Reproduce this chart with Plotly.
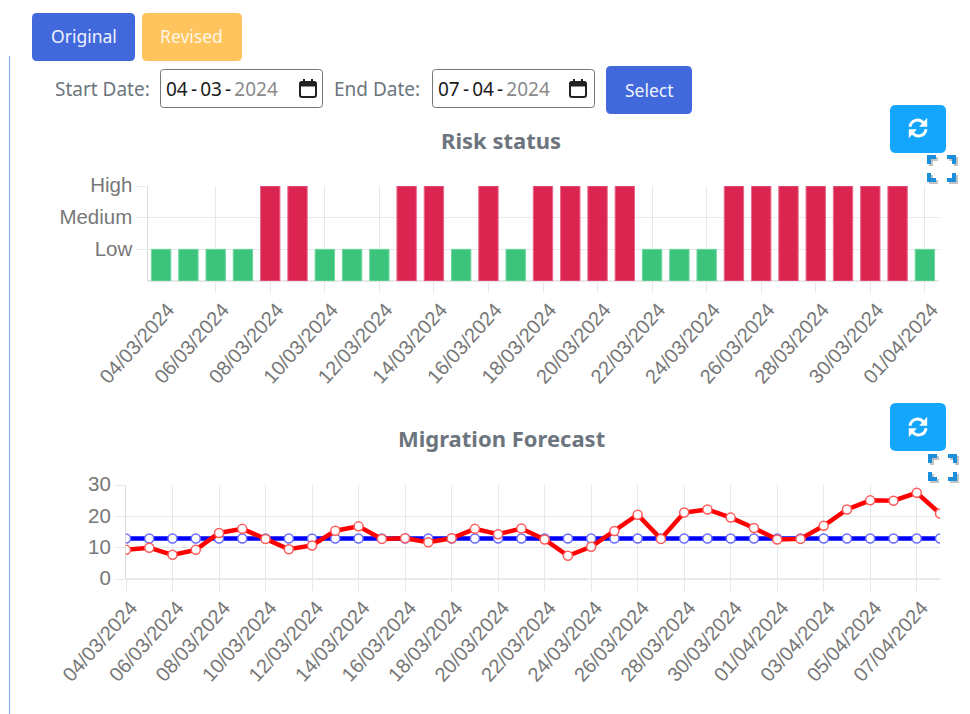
import plotly.graph_objects as go

W, H = 970, 714

risk_dates = ["2024-03-%02d" % d for d in range(4, 32)] + ["2024-04-01"]
risk_levels = [1,1,1,1,3,3,1,1,1,3,3,1,3,1,3,3,3,3,1,1,1,3,3,3,3,3,3,3,1]
risk_ticktext = ["Low", "Medium", "High"]
risk_tickvals = [1, 2, 3]
risk_colors = {1: "#3cc47c", 3: "#dc2450"}
risk_borders = {1: "#6fd6a0", 3: "#e8688a"}

fc_dates = ["2024-03-%02d" % d for d in range(4, 32)] + ["2024-04-%02d" % d for d in range(1, 9)]
fc_blue = [12.9] * 36
fc_red = [9.3,10,7.7,9.3,14.7,16,12.8,9.5,10.7,15.4,16.8,12.8,13,11.7,13,16,14.3,16.1,
          12.6,7.4,10.3,15.3,20.5,12.8,21.2,22.2,19.6,16.3,12.6,12.8,17,22.2,25.1,25,27.5,20.9]

GRID = "#e8e8e8"
TICK = "#777777"
UI = "Noto Sans"
LAB = "Liberation Sans"


def px(x, y):
    return f"{x/W:.5f},{1-y/H:.5f}"


def rrect(x0, y0, x1, y1, r):
    return (f"M{px(x0+r,y0)} L{px(x1-r,y0)} Q{px(x1,y0)} {px(x1,y0+r)} L{px(x1,y1-r)} "
            f"Q{px(x1,y1)} {px(x1-r,y1)} L{px(x0+r,y1)} Q{px(x0,y1)} {px(x0,y1-r)} "
            f"L{px(x0,y0+r)} Q{px(x0,y0)} {px(x0+r,y0)} Z")


shapes, annots = [], []


def box(x0, y0, x1, y1, r, fill, line=None, lw=0):
    shapes.append(dict(type="path", xref="paper", yref="paper", path=rrect(x0, y0, x1, y1, r),
                       fillcolor=fill, line=dict(color=line or fill, width=lw), layer="above"))


def text(x, y, s, size, color, anchor="center", bold=False, font=UI):
    annots.append(dict(xref="paper", yref="paper", x=x/W, y=1-y/H, text=f"<b>{s}</b>" if bold else s,
                       showarrow=False, xanchor=anchor, yanchor="middle", borderpad=0,
                       font=dict(family=font, size=size, color=color)))


def stroke(d, color, width, opacity=1):
    shapes.append(dict(type="path", xref="paper", yref="paper", path=d, opacity=opacity,
                       line=dict(color=color, width=width), layer="above"))


def calendar(cx, cy):
    box(cx-8, cy-7, cx+8, cy+8, 2, "rgba(0,0,0,0)", "#222", 2)
    box(cx-8, cy-7, cx+8, cy-3, 1, "#222", "#222", 1)
    stroke(f"M{px(cx-4,cy-10)} L{px(cx-4,cy-7)} M{px(cx+4,cy-10)} L{px(cx+4,cy-7)}", "#222", 2)


def refresh(cx, cy):
    k = 1.15
    for s in (1, -1):
        p = lambda a, b: px(cx + s*k*a, cy + s*k*b)
        stroke(f"M{p(-7,-1)} C{p(-6,-7)} {p(1,-9)} {p(5,-4)}", "white", 3)
        shapes.append(dict(type="path", xref="paper", yref="paper", layer="above",
                           path=f"M{p(8,-9)} L{p(8,-1)} L{p(1,-1)} Z", fillcolor="white",
                           line=dict(color="white", width=0)))


def expand(x0, y0, x1, y1):
    L = 7
    d = lambda dx, dy: " ".join([
        f"M{px(x0+dx,y0+L+dy)} L{px(x0+dx,y0+dy)} L{px(x0+L+dx,y0+dy)}",
        f"M{px(x1-L+dx,y0+dy)} L{px(x1+dx,y0+dy)} L{px(x1+dx,y0+L+dy)}",
        f"M{px(x0+dx,y1-L+dy)} L{px(x0+dx,y1+dy)} L{px(x0+L+dx,y1+dy)}",
        f"M{px(x1-L+dx,y1+dy)} L{px(x1+dx,y1+dy)} L{px(x1+dx,y1-L+dy)}"])
    stroke(d(2, 2), "#555555", 4, 0.35)
    stroke(d(0, 0), "#1b8fdc", 4)


def datestr(a, b, c):
    return f'{a}\u2009-\u2009{b}\u2009-\u2009<span style="color:#8a8a8a">{c}</span>'


# page furniture
stroke(f"M{px(9.5,56)} L{px(9.5,714)}", "#8fb0ee", 1.2)
box(32, 13, 135, 61, 5, "#4169dc")
text(84, 36, "Original", 17.5, "#eef2ff")
box(142, 13, 242, 61, 5, "#ffc45e")
text(191, 36, "Revised", 17.5, "#fff6e4")
text(54, 89, "Start Date:", 19, "#6c757d", "left")
box(160.5, 69.5, 322.5, 107.5, 3, "white", "#777777", 1)
text(165, 89, datestr("04", "03", "2024"), 19, "#1a1a1a", "left")
calendar(308, 89)
text(333, 89, "End Date:", 19, "#6c757d", "left")
box(432.5, 69.5, 594.5, 107.5, 3, "white", "#777777", 1)
text(437, 89, datestr("07", "04", "2024"), 19, "#1a1a1a", "left")
calendar(578, 89)
box(606, 66, 692, 114, 5, "#4169dc")
text(649, 90, "Select", 17.5, "#eef2ff")
box(890, 105, 946, 153, 6, "#14a5fc")
refresh(918, 128)
expand(929, 157, 954, 180)
box(890, 403, 946, 451, 6, "#14a5fc")
refresh(918, 427)
expand(930, 456, 955, 479)
text(501, 140, "Risk status", 22, "#6c757d", bold=True)
text(501, 438, "Migration Forecast", 22, "#6c757d", bold=True)

fig = go.Figure()
fig.add_trace(go.Bar(x=risk_dates, y=risk_levels, width=0.71*86400000, xaxis="x", yaxis="y",
                     marker=dict(color=[risk_colors[v] for v in risk_levels],
                                 line=dict(color=[risk_borders[v] for v in risk_levels], width=1)),
                     showlegend=False))
fig.add_trace(go.Scatter(x=fc_dates, y=fc_blue, mode="lines+markers", xaxis="x2", yaxis="y2", showlegend=False,
                         line=dict(color="#0000ff", width=4.5),
                         marker=dict(size=9, color="white", line=dict(color="#6a6aff", width=1.5))))
fig.add_trace(go.Scatter(x=fc_dates, y=fc_red, mode="lines+markers", xaxis="x2", yaxis="y2", showlegend=False,
                         line=dict(color="#ff0000", width=4.5),
                         marker=dict(size=9, color="white", line=dict(color="#ff5a5a", width=1.5))))

xfont = dict(family=LAB, size=20, color=TICK)
yfont = dict(family=LAB, size=20.5, color=TICK)
xcommon = dict(type="date", tickformat="%d/%m/%Y", tickfont=xfont, showline=False, tickangle=-48,
               zeroline=False, ticks="", showgrid=False, automargin=False, ticklabelstandoff=12)
ycommon = dict(showgrid=True, gridcolor=GRID, gridwidth=1.2, zeroline=True, zerolinecolor=GRID, zerolinewidth=2,
               ticks="outside", ticklen=10, tickcolor=GRID, tickwidth=1.2, tickfont=yfont, ticklabelshift=-1,
               showline=True, linecolor="#dcdcdc", linewidth=1.2, fixedrange=True, automargin=False)

fig.update_layout(
    width=W, height=H, margin=dict(l=0, r=0, t=0, b=0), autosize=False,
    paper_bgcolor="white", plot_bgcolor="white", showlegend=False,
    shapes=shapes, annotations=annots,
    xaxis=dict(xcommon, domain=[147.5/W, 938.5/W], anchor="y", ticklabelshift=7,
               range=["2024-03-03 12:00", "2024-04-01 12:00"],
               tickmode="array", tickvals=risk_dates[::2],
               minor=dict(tickmode="array", tickvals=risk_dates[2::2], showgrid=True, gridcolor=GRID, gridwidth=1.2,
                          ticks="outside", ticklen=11, tickcolor=GRID, tickwidth=1.2)),
    yaxis=dict(ycommon, domain=[1-281/H, 1-186/H], anchor="x", range=[0, 3],
               tickmode="array", tickvals=risk_tickvals, ticktext=risk_ticktext),
    xaxis2=dict(xcommon, domain=[126/W, 940/W], anchor="y2", ticklabelshift=5,
                range=["2024-03-04", "2024-04-08"],
                tickmode="array", tickvals=fc_dates[::2],
                minor=dict(tickmode="array", tickvals=fc_dates[::2], showgrid=True, gridcolor=GRID, gridwidth=1.2,
                           ticks="outside", ticklen=11, tickcolor=GRID, tickwidth=1.2)),
    yaxis2=dict(ycommon, domain=[1-579/H, 1-485/H], anchor="x2", range=[0, 30],
                tickmode="array", tickvals=[0, 10, 20, 30]),
)

fig.write_html("out.html", config=dict(displayModeBar=False),
               post_script="document.body.style.margin='0';document.body.style.overflow='hidden';")
